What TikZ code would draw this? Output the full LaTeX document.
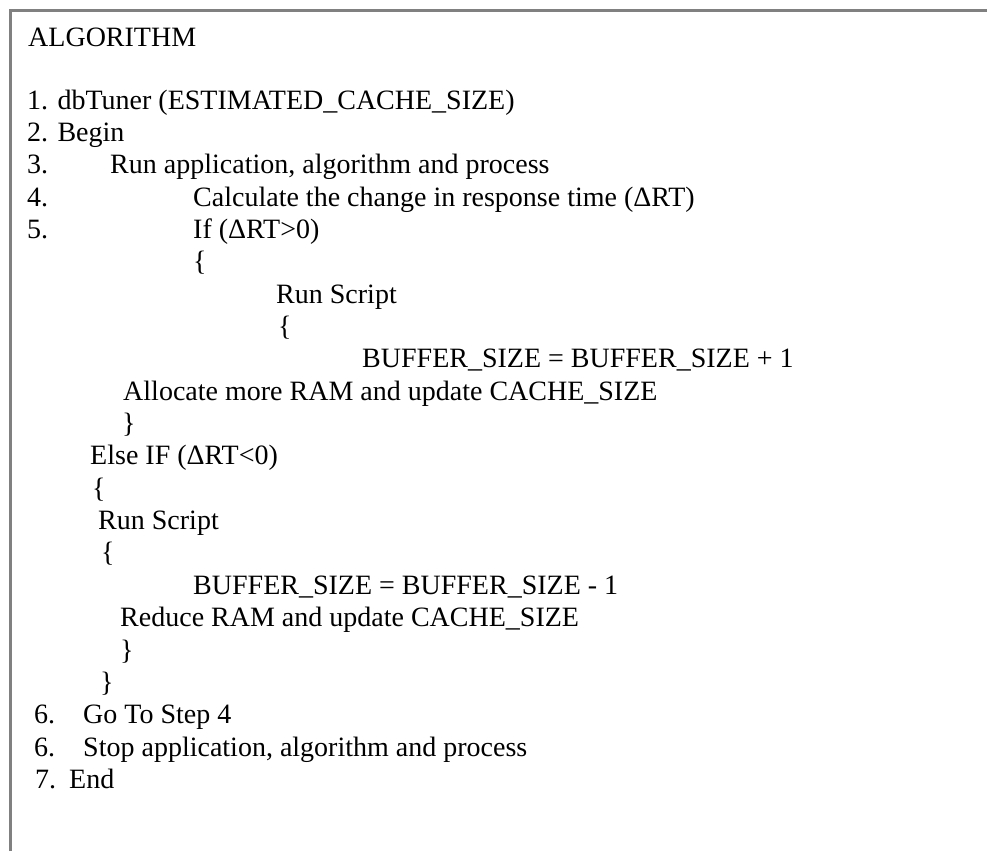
\documentclass[tikz,border=0pt]{standalone}
\usepackage{fontspec}
\setmainfont{Liberation Serif}
\begin{document}
\begin{tikzpicture}[x=0.3mm, y=-0.3mm]
\tikzset{
  codeline/.style={anchor=base west, inner sep=0pt, text=black,
    font=\fontsize{23.9pt}{29pt}\selectfont},
  frameline/.style={draw=black!50, line width=0.9mm}
}
\useasboundingbox (0,0) rectangle (987,851);
\draw[frameline] (10.5,851) |- (987,10.5);
\node[codeline] (title) at (28, 46) {ALGORITHM};
\node[codeline] (s1) at (27, 109) {1. dbTuner (ESTIMATED\_CACHE\_SIZE)};
\node[codeline] (s2) at (27, 141.4) {2. Begin};
\node[codeline] (n3) at (27, 173.7) {3.};
\node[codeline] (s3) at (110, 173.7) {Run application, algorithm and process};
\node[codeline] (n4) at (27, 206.1) {4.};
\node[codeline] (s4) at (193, 206.1) {Calculate the change in response time (ΔRT)};
\node[codeline] (n5) at (27, 238.4) {5.};
\node[codeline] (s5) at (193, 238.4) {If (ΔRT>0)};
\node[codeline] (ifopen) at (193, 270.8) {\{};
\node[codeline] (runup) at (276, 303.1) {Run Script};
\node[codeline] (runupopen) at (278, 335.5) {\{};
\node[codeline] (bufup) at (362, 367.8) {BUFFER\_SIZE = BUFFER\_SIZE + 1};
\node[codeline] (alloc) at (123, 400.2) {Allocate more RAM and update CACHE\_SIZE};
\node[codeline] (runupclose) at (122, 432.5) {\}};
\node[codeline] (elseif) at (90, 464.9) {Else IF (ΔRT<0)};
\node[codeline] (elseopen) at (92, 497.2) {\{};
\node[codeline] (rundown) at (98, 529.6) {Run Script};
\node[codeline] (rundownopen) at (101, 561.9) {\{};
\node[codeline] (bufdown) at (193, 594.3) {BUFFER\_SIZE = BUFFER\_SIZE - 1};
\node[codeline] (reduce) at (120, 626.6) {Reduce RAM and update CACHE\_SIZE};
\node[codeline] (rundownclose) at (120, 659) {\}};
\node[codeline] (elseclose) at (100, 691.3) {\}};
\node[codeline] (n6a) at (34, 723.7) {6.};
\node[codeline] (s6a) at (83, 723.7) {Go To Step 4};
\node[codeline] (n6b) at (34, 756) {6.};
\node[codeline] (s6b) at (83, 756) {Stop application, algorithm and process};
\node[codeline] (n7) at (35, 788.4) {7.};
\node[codeline] (s7) at (69, 788.4) {End};
\end{tikzpicture}
\end{document}
